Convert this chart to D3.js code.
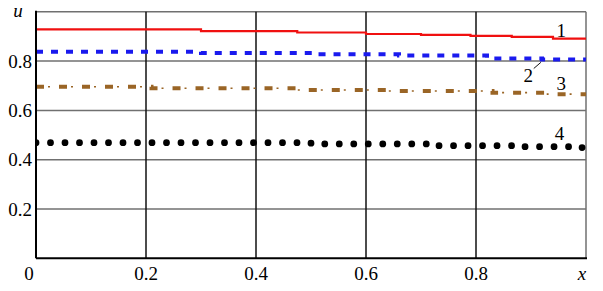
<!DOCTYPE html>
<html><head><meta charset="utf-8">
<script src="https://cdn.jsdelivr.net/npm/d3@7"></script>
<style>body{margin:0;background:#fff} #c text{font-family:"Liberation Serif" !important;}</style>
</head><body><svg id="c" width="603" height="291"></svg>
<script>
// Data
const xTicks = [0.2, 0.4, 0.6, 0.8];
const yTicks = [0.2, 0.4, 0.6, 0.8];
const xTickLabels = ["0.2", "0.4", "0.6", "0.8"];
const yTickLabels = ["0.2", "0.4", "0.6", "0.8"];
const curve1 = [[0,0.929],[0.30,0.922],[0.475,0.916],[0.60,0.910],[0.70,0.906],[0.79,0.902],[0.865,0.898],[0.94,0.891],[1,0.891]];
const curve2 = [[0,0.838],[0.30,0.833],[0.51,0.828],[0.66,0.823],[0.82,0.811],[0.92,0.806],[1,0.802]];
const curve3 = [[0,0.696],[0.21,0.690],[0.475,0.683],[0.64,0.679],[0.83,0.672],[0.93,0.666],[1,0.663]];
const curve4 = [[0,0.469],[0.50,0.464],[0.71,0.457],[0.87,0.453],[0.97,0.449],[1,0.449]];
const curveLabels = [{t:"1", x:0.955, y:0.925},{t:"2", x:0.895, y:0.74},{t:"3", x:0.955, y:0.71},{t:"4", x:0.952, y:0.505}];

const svg = d3.select("#c");
const X0 = 36, X1 = 586, Y0 = 258.3, Y1 = 11.8;
const x = d3.scaleLinear().domain([0,1]).range([X0,X1]);
const y = d3.scaleLinear().domain([0,1]).range([Y0,Y1]);

svg.append("defs").append("clipPath").attr("id","clip").append("rect")
  .attr("x",X0).attr("y",Y1).attr("width",X1-X0).attr("height",Y0-Y1);

svg.append("g").selectAll("line").data(yTicks).join("line")
  .attr("x1",X0).attr("x2",X1).attr("y1",d=>y(d)).attr("y2",d=>y(d))
  .attr("stroke","#707070").attr("stroke-width",1.5);
svg.append("line").attr("x1",X0).attr("x2",X1).attr("y1",Y1).attr("y2",Y1).attr("stroke","#707070").attr("stroke-width",1.5);
svg.append("line").attr("x1",X1).attr("x2",X1).attr("y1",Y1).attr("y2",Y0).attr("stroke","#707070").attr("stroke-width",1.5);
svg.append("g").selectAll("line").data(xTicks).join("line")
  .attr("x1",d=>x(d)).attr("x2",d=>x(d)).attr("y1",Y1).attr("y2",Y0)
  .attr("stroke","#111").attr("stroke-width",1.5);

const line = d3.line().x(d=>x(d[0])).y(d=>y(d[1])).curve(d3.curveStepAfter);
const g = svg.append("g").attr("clip-path","url(#clip)");

g.append("path").datum(curve1).attr("d",line).attr("fill","none")
  .attr("stroke","#f01010").attr("stroke-width",2.2);
g.append("path").datum(curve2).attr("d",line).attr("fill","none")
  .attr("stroke","#1a1aee").attr("stroke-width",4).attr("stroke-dasharray","7 8");
g.append("path").datum(curve3).attr("d",line).attr("fill","none")
  .attr("stroke","#9a6526").attr("stroke-width",4).attr("stroke-dasharray","8 15");
g.append("path").datum(curve3).attr("d",line).attr("fill","none")
  .attr("stroke","#9a6526").attr("stroke-width",1.6).attr("stroke-dasharray","2 21")
  .attr("stroke-dashoffset",-12);
g.append("path").datum(curve4).attr("d",line).attr("fill","none")
  .attr("stroke","#000").attr("stroke-width",6.8).attr("stroke-linecap","round")
  .attr("stroke-dasharray","0 14.5");

svg.append("line").attr("x1",X0).attr("x2",X0).attr("y1",Y1-1).attr("y2",Y0).attr("stroke","#000").attr("stroke-width",2);
svg.append("line").attr("x1",X0).attr("x2",X1+1).attr("y1",Y0).attr("y2",Y0).attr("stroke","#000").attr("stroke-width",2);

function txt(sel){ return sel.attr("font-family","Liberation Serif").attr("font-size",19); }

txt(svg.append("g").selectAll("text").data(yTicks).join("text")
  .attr("x",32).attr("y",d=>y(d)+6.5).attr("text-anchor","end")
  .text((d,i)=>yTickLabels[i]));
txt(svg.append("g").selectAll("text").data(xTicks).join("text")
  .attr("x",d=>x(d)).attr("y",280).attr("text-anchor","middle")
  .text((d,i)=>xTickLabels[i]));
txt(svg.append("text").attr("x",29).attr("y",280).attr("text-anchor","middle").text("0"));
txt(svg.append("text").attr("x",582).attr("y",280).attr("text-anchor","middle").attr("font-style","italic").text("x"));
txt(svg.append("text").attr("x",18).attr("y",17).attr("text-anchor","middle").attr("font-style","italic").text("u"));

txt(svg.append("g").selectAll("text").data(curveLabels).join("text")
  .attr("x",d=>x(d.x)).attr("y",d=>y(d.y)+6.5).attr("text-anchor","middle")
  .text(d=>d.t));
svg.append("line").attr("x1",x(0.905)).attr("y1",y(0.77)).attr("x2",x(0.918)).attr("y2",y(0.795))
  .attr("stroke","#111").attr("stroke-width",1);
</script></body></html>
